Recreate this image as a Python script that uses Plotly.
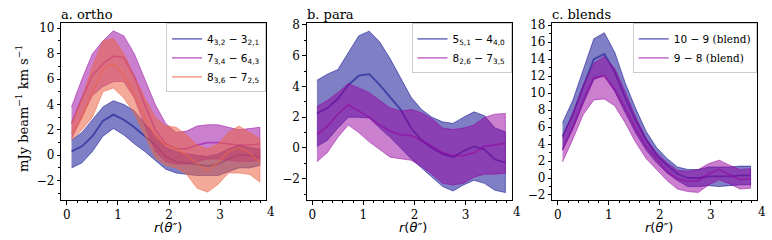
import plotly.graph_objects as go

# radial positions (arcsec)
r = [0.09, 0.295, 0.5, 0.705, 0.91, 1.115, 1.32, 1.525, 1.73, 1.935,
     2.14, 2.345, 2.55, 2.755, 2.96, 3.165, 3.37, 3.575, 3.78]

# ---- panel a: ortho ----
a1_mean = [0.3, 0.7, 1.5, 2.7, 3.2, 2.8, 2.2, 1.5, 0.8, -0.1, -0.5, -0.6, -0.75, -0.85, -0.7, -0.3, 0.0, 0.0, -0.15]
a1_up = [1.2, 1.8, 2.8, 3.8, 4.3, 4.0, 3.5, 2.5, 1.6, 0.6, 0.3, 0.1, 0.0, -0.1, 0.1, 0.5, 0.8, 0.6, 0.5]
a1_lo = [-1.0, -0.6, 0.3, 1.5, 2.1, 1.6, 0.9, 0.3, -0.4, -1.1, -1.4, -1.5, -1.6, -1.6, -1.6, -1.3, -1.0, -1.0, -0.8]

a2_mean = [2.5, 4.5, 6.3, 7.2, 7.8, 7.7, 6.2, 4.0, 2.0, 0.9, 0.5, 0.5, 0.8, 1.0, 1.0, 0.9, 0.8, 0.8, 0.9]
a2_up = [3.8, 6.0, 8.0, 9.0, 9.8, 9.4, 8.0, 6.0, 4.0, 2.5, 1.8, 1.9, 2.3, 2.4, 2.4, 2.2, 2.0, 2.1, 2.2]
a2_lo = [1.3, 3.0, 4.7, 5.4, 5.8, 5.8, 4.5, 2.3, 0.3, -0.5, -0.7, -0.7, -0.5, -0.3, -0.3, -0.4, -0.5, -0.5, -0.4]

a3_mean = [1.7, 3.0, 5.0, 6.8, 7.2, 6.3, 4.8, 3.0, 1.5, 0.8, 0.5, 0.0, -0.7, -1.2, -0.6, 0.3, 0.6, 0.2, -0.6]
a3_up = [2.5, 4.5, 7.0, 9.0, 9.2, 8.0, 6.2, 4.5, 3.0, 2.3, 2.2, 1.6, 0.8, 0.5, 0.9, 1.8, 2.3, 1.8, 1.3]
a3_lo = [1.2, 2.0, 3.0, 5.0, 5.3, 4.5, 3.3, 1.5, -0.2, -0.8, -1.0, -1.5, -2.6, -2.9, -2.3, -1.4, -1.4, -1.5, -2.1]

# ---- panel b: para ----
b1_mean = [2.25, 2.6, 3.2, 4.1, 4.7, 4.8, 4.1, 3.3, 2.5, 1.3, 0.5, 0.0, -0.4, -0.6, -0.2, 0.1, -0.1, -0.75, -0.95]
b1_up = [4.4, 4.8, 5.1, 6.2, 7.3, 7.6, 6.9, 5.8, 4.5, 3.3, 2.5, 2.0, 1.7, 1.6, 2.0, 2.35, 2.1, 1.3, 1.05]
b1_lo = [0.1, 0.5, 1.3, 2.0, 2.0, 1.95, 1.3, 0.7, 0.0, -0.7, -1.3, -1.9, -2.5, -2.8, -2.4, -2.1, -2.3, -2.75, -2.9]

b2_mean = [0.9, 1.4, 2.2, 2.8, 2.4, 2.0, 1.5, 1.1, 0.85, 0.8, 0.5, 0.1, -0.3, -0.5, -0.5, -0.3, 0.1, 0.2, 0.3]
b2_up = [2.7, 3.1, 3.6, 4.2, 3.9, 3.6, 3.1, 2.6, 2.4, 2.5, 2.3, 1.9, 1.3, 1.2, 1.3, 1.5, 2.0, 2.2, 2.25]
b2_lo = [-0.9, -0.3, 0.7, 1.5, 1.0, 0.4, -0.1, -0.6, -0.7, -0.8, -1.2, -1.7, -2.3, -2.4, -2.3, -1.9, -1.7, -1.7, -1.65]

# ---- panel c: blends ----
c1_mean = [4.9, 7.5, 10.8, 14.0, 14.6, 12.5, 9.5, 6.8, 4.5, 2.7, 1.5, 0.5, 0.0, 0.0, 0.2, 0.2, 0.2, 0.3, 0.3]
c1_up = [6.5, 9.2, 12.8, 16.4, 17.1, 14.8, 11.2, 8.2, 5.5, 3.6, 2.3, 1.3, 1.0, 1.0, 1.3, 1.3, 1.3, 1.4, 1.4]
c1_lo = [3.3, 5.8, 8.8, 11.6, 12.1, 10.2, 7.7, 5.3, 3.3, 1.8, 0.6, -0.3, -1.0, -1.0, -0.9, -1.0, -0.9, -0.8, -0.8]

c2_mean = [3.3, 6.0, 9.2, 11.8, 12.0, 10.4, 8.2, 5.8, 3.7, 2.2, 0.8, -0.1, -0.4, -0.3, 0.5, 1.0, 0.4, -0.2, -0.1]
c2_up = [4.8, 7.7, 11.0, 13.5, 14.3, 12.9, 10.2, 7.2, 4.7, 3.0, 1.8, 0.9, 0.8, 1.0, 1.7, 2.1, 1.5, 1.0, 1.1]
c2_lo = [1.9, 4.6, 7.5, 9.2, 9.3, 8.5, 6.5, 4.2, 2.3, 1.0, -0.3, -1.3, -1.6, -1.7, -0.8, -0.2, -0.7, -1.3, -1.2]

labels_a = ["4<sub>3,2</sub> − 3<sub>2,1</sub>", "7<sub>3,4</sub> − 6<sub>4,3</sub>", "8<sub>3,6</sub> − 7<sub>2,5</sub>"]
labels_b = ["5<sub>5,1</sub> − 4<sub>4,0</sub>", "8<sub>2,6</sub> − 7<sub>3,5</sub>"]
labels_c = ["10 − 9 <span style='font-family:DejaVu Serif'>(blend)</span>",
            "9 − 8 <span style='font-family:DejaVu Serif'>(blend)</span>"]
titles = ["a. ortho", "b. para", "c. blends"]
xtitle = "<i>r</i>(<i>θ″</i>)"
ytitle = "mJy beam<sup>−1</sup> km s<sup>−1</sup>"

BLUE = "rgba(0,0,139,0.5)"
PURP = "rgba(150,0,160,0.5)"
SALM = "rgba(235,100,70,0.55)"

W, H = 772, 240
xdoms = [[61.3 / W, 266.0 / W], [306.7 / W, 511.5 / W], [552.3 / W, 756.7 / W]]
ydom = [1 - 201.3 / H, 1 - 19.0 / H]
yranges = [[-3.56, 10.38], [-3.41, 8.1], [-2.64, 18.2]]

fig = go.Figure()

panels = [
    [(a1_mean, a1_up, a1_lo, BLUE, labels_a[0]),
     (a2_mean, a2_up, a2_lo, PURP, labels_a[1]),
     (a3_mean, a3_up, a3_lo, SALM, labels_a[2])],
    [(b1_mean, b1_up, b1_lo, BLUE, labels_b[0]),
     (b2_mean, b2_up, b2_lo, PURP, labels_b[1])],
    [(c1_mean, c1_up, c1_lo, BLUE, labels_c[0]),
     (c2_mean, c2_up, c2_lo, PURP, labels_c[1])],
]

for i, series in enumerate(panels):
    xa = "x" if i == 0 else f"x{i+1}"
    ya = "y" if i == 0 else f"y{i+1}"
    lg = "legend" if i == 0 else f"legend{i+1}"
    for mean, up, lo, col, lab in series:
        fig.add_trace(go.Scatter(
            x=r + r[::-1], y=up + lo[::-1], fill="toself", fillcolor=col,
            line=dict(color=col, width=1), mode="lines", showlegend=False,
            hoverinfo="skip", xaxis=xa, yaxis=ya))
        fig.add_trace(go.Scatter(
            x=r, y=mean, mode="lines", line=dict(color=col, width=1.8),
            name=lab, legend=lg, xaxis=xa, yaxis=ya))

tickfont = dict(family="DejaVu Serif", size=12, color="black")
layout = dict(
    width=W, height=H, autosize=False,
    margin=dict(l=0, r=0, t=0, b=0),
    paper_bgcolor="white", plot_bgcolor="white",
    showlegend=True,
)
for i in range(3):
    sfx = "" if i == 0 else str(i + 1)
    layout["xaxis" + sfx] = dict(
        domain=xdoms[i], range=[-0.11, 3.9], anchor="y" + sfx,
        tickvals=[0, 1, 2, 3], ticks="outside", ticklen=3.5, tickwidth=0.8,
        tickcolor="black", showline=True, linecolor="black", linewidth=0.8,
        mirror=True, showgrid=False, zeroline=False, tickfont=tickfont,
        minor=dict(dtick=0.2, ticks="outside", ticklen=2, tickwidth=0.6, tickcolor="black"),
    )
    layout["yaxis" + sfx] = dict(
        domain=ydom, range=yranges[i], anchor="x" + sfx,
        dtick=2, ticks="outside", ticklen=3.5, tickwidth=0.8,
        tickcolor="black", showline=True, linecolor="black", linewidth=0.8,
        mirror=True, showgrid=False, zeroline=False, tickfont=tickfont,
        minor=dict(dtick=1, ticks="outside", ticklen=2, tickwidth=0.6, tickcolor="black"),
    )
    layout["legend" + sfx] = dict(
        x=xdoms[i][1], xanchor="right", y=ydom[1], yanchor="top",
        bgcolor="rgba(255,255,255,0.8)", bordercolor="#cccccc", borderwidth=1,
        font=dict(family="DejaVu Sans", size=10.5, color="black"), itemwidth=30,
        tracegroupgap=0,
    )

fig.update_layout(**layout)

annotations = []
for i in range(3):
    annotations.append(dict(
        text=titles[i], xref="paper", yref="paper", x=xdoms[i][0] - 1.0 / W, y=ydom[1],
        xanchor="left", yanchor="bottom", showarrow=False, borderpad=0,
        font=dict(family="DejaVu Serif", size=13, color="black")))
    annotations.append(dict(
        text="4", xref="paper", yref="paper", x=xdoms[i][1] + 5.0 / W,
        y=1 - 213.0 / H, xanchor="center", yanchor="middle", showarrow=False,
        borderpad=0, font=tickfont))
    annotations.append(dict(
        text=xtitle, xref="paper", yref="paper",
        x=(xdoms[i][0] + xdoms[i][1]) / 2 + 4.0 / W,
        y=1 - 238.0 / H, xanchor="center", yanchor="bottom", showarrow=False,
        borderpad=0, font=dict(family="DejaVu Sans", size=13, color="black")))
annotations.append(dict(
    text=ytitle, xref="paper", yref="paper", x=22.0 / W, y=1 - 107.0 / H,
    xanchor="center", yanchor="middle", textangle=-90, showarrow=False,
    borderpad=0, font=dict(family="DejaVu Serif", size=13, color="black")))
fig.update_layout(annotations=annotations)

fig.write_html("out.html", config={"displayModeBar": False},
               post_script="document.body.style.margin='0px';document.body.style.overflow='hidden';")
